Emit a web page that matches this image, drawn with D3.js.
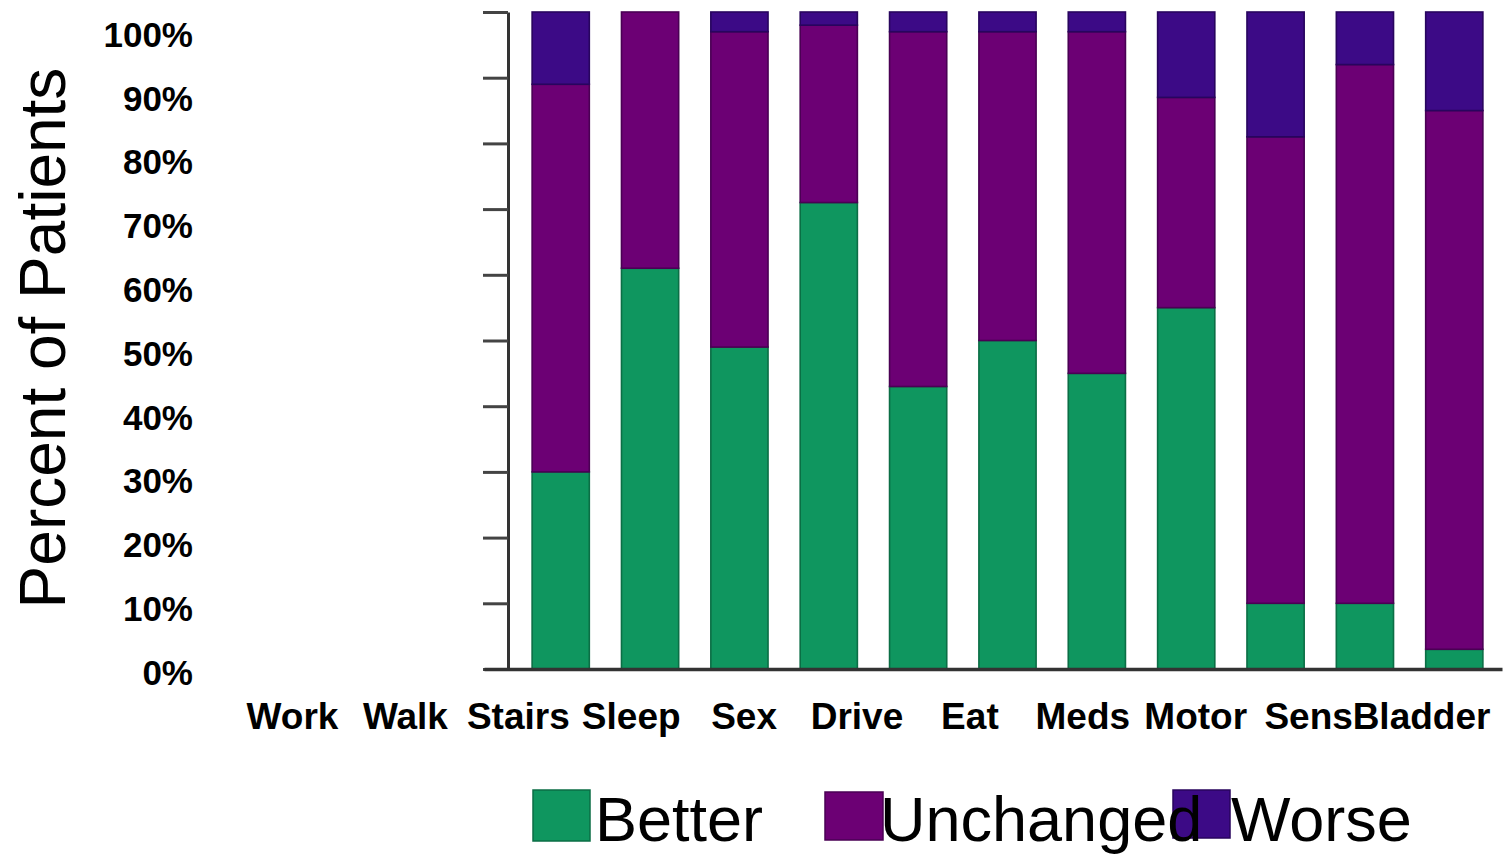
<!DOCTYPE html>
<html>
<head>
<meta charset="utf-8">
<script src="https://cdn.jsdelivr.net/npm/d3@7"></script>
<style>
  html, body { margin: 0; padding: 0; background: #ffffff; }
  svg { display: block; font-family: "Liberation Sans", Arial, Helvetica, sans-serif; }
</style>
</head>
<body>
<svg id="chart" width="1510" height="856"></svg>
<script>
// ---- data ----
const categories = ["Work", "Walk", "Stairs", "Sleep", "Sex", "Drive", "Eat", "Meds", "Motor", "Sens", "Bladder"];
const better    = [30, 61, 49, 71, 43, 50, 45, 55, 10, 10, 3];
const unchanged = [59, 39, 48, 27, 54, 47, 52, 32, 71, 82, 82];
const worse     = [11,  0,  3,  2,  3,  3,  3, 13, 19,  8, 15];
const seriesKeys = ["Better", "Unchanged", "Worse"];
const yTicks = [0, 10, 20, 30, 40, 50, 60, 70, 80, 90, 100];
const yTickLabels = ["0%", "10%", "20%", "30%", "40%", "50%", "60%", "70%", "80%", "90%", "100%"];
const yTitle = "Percent of Patients";

// ---- styles ----
const fills   = { Better: "#0f965f", Unchanged: "#6c0074", Worse: "#3c0a86" };
const strokes = { Better: "#0b6e45", Unchanged: "#4a0054", Worse: "#28055e" };

const table = categories.map((c, i) => ({ cat: c, Better: better[i], Unchanged: unchanged[i], Worse: worse[i] }));

const svg = d3.select("#chart");

// scales
const x = d3.scaleBand().domain(categories).range([508, 1507]).paddingInner(0.36).paddingOuter(0.27);
const y = d3.scaleLinear().domain([0, 100]).range([669, 12]);
const yLabel = d3.scaleLinear().domain([0, 100]).range([673, 35]);
const xLabel = d3.scalePoint().domain(categories).range([292, 1421]);

// bars
const stacked = d3.stack().keys(seriesKeys)(table);
const layers = svg.append("g").selectAll("g").data(stacked).join("g")
  .attr("fill", d => fills[d.key])
  .attr("stroke", d => strokes[d.key]);
layers.selectAll("rect").data(d => d.filter(s => s[1] - s[0] > 0)).join("rect")
  .attr("x", d => x(d.data.cat))
  .attr("y", d => y(d[1]))
  .attr("width", x.bandwidth())
  .attr("height", d => y(d[0]) - y(d[1]))
  .attr("stroke-width", 1.6);

// y axis (ticks only)
const yAxis = svg.append("g").attr("transform", "translate(508,0)")
  .call(d3.axisLeft(y).tickValues(yTicks).tickSize(25).tickSizeOuter(0).tickFormat(""));
yAxis.select(".domain").attr("stroke", "#333").attr("stroke-width", 3);
yAxis.selectAll(".tick line").attr("stroke", "#444").attr("stroke-width", 3);

// x axis baseline
const xAxis = svg.append("g").attr("transform", "translate(0,669)")
  .call(d3.axisBottom(d3.scaleLinear().range([484, 1502])).ticks(0).tickSizeOuter(0));
xAxis.select(".domain").attr("stroke", "#333").attr("stroke-width", 3.5);

// y tick labels (offset from the ticks, as in the reference)
const yLab = svg.append("g").attr("transform", "translate(193,0)")
  .call(d3.axisLeft(yLabel).tickValues(yTicks).tickSize(0).tickPadding(0)
    .tickFormat((d, i) => yTickLabels[i]));
yLab.select(".domain").remove();
yLab.selectAll("text").attr("font-family", "'Liberation Sans', Arial, sans-serif")
  .attr("font-size", 35).attr("font-weight", "bold").attr("fill", "#000");

// x category labels
const xLab = svg.append("g").attr("transform", "translate(0,703)")
  .call(d3.axisBottom(xLabel).tickSize(0).tickPadding(0));
xLab.select(".domain").remove();
xLab.selectAll("text").attr("font-family", "'Liberation Sans', Arial, sans-serif")
  .attr("font-size", 37).attr("font-weight", "bold").attr("fill", "#000");

// y title
svg.append("text")
  .attr("transform", "translate(65,338) rotate(-90)")
  .attr("text-anchor", "middle")
  .attr("font-size", 64)
  .attr("fill", "#000")
  .text(yTitle);

// legend
const legendItems = [
  { key: "Better", rx: 533, ry: 790, rw: 57, rh: 51, tx: 595 },
  { key: "Unchanged", rx: 825, ry: 792, rw: 58, rh: 48, tx: 880 },
  { key: "Worse", rx: 1173, ry: 790, rw: 57, rh: 48, tx: 1231 }
];
const leg = svg.append("g");
leg.selectAll("rect").data(legendItems).join("rect")
  .attr("x", d => d.rx).attr("y", d => d.ry)
  .attr("width", d => d.rw).attr("height", d => d.rh)
  .attr("fill", d => fills[d.key]).attr("stroke", d => strokes[d.key]).attr("stroke-width", 1.5);
leg.selectAll("text").data(legendItems).join("text")
  .attr("x", d => d.tx).attr("y", 841)
  .attr("font-size", 63)
  .attr("fill", "#000")
  .text(d => d.key);
</script>
</body>
</html>
